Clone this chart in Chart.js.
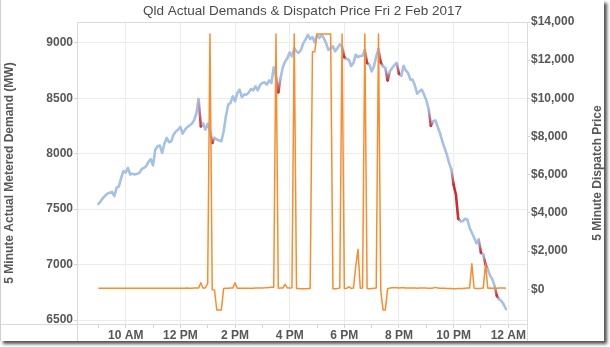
<!DOCTYPE html>
<html>
<head>
<meta charset="utf-8">
<script src="https://cdn.jsdelivr.net/npm/chart.js@4.4.1/dist/chart.umd.min.js"></script>
<style>
  body { margin: 0; background: #fff; }
  #frame {
    position: absolute; left: 0; top: 0;
    width: 603px; height: 341px;
    border-left: 1px solid #d0d0d0;
    box-shadow: 3px 3px 3px #555;
    background: #fff;
  }
  canvas { display: block; }
</style>
</head>
<body>
<div id="frame"><canvas id="chart" width="603" height="341"></canvas></div>
<script>
// 5 minute intervals, first one at 9:00 AM
const START_HOUR = 9;
const STEP_MIN = 5;

// Qld 5 minute actual metered demand (MW)
const demand = [
  7548, 7570, 7600, 7620, 7640, 7648, 7655, 7617, 7692, 7705,
  7780, 7842, 7830, 7872, 7812, 7820, 7812, 7818, 7827, 7860,
  7872, 7887, 7925, 7950, 7895, 8037, 8067, 8073, 8007, 8091,
  8142, 8103, 8110, 8170, 8200, 8215, 8241, 8180, 8215, 8240,
  8253, 8270, 8300, 8360, 8493, 8247, 8271, 8217, 8271, 8210,
  8097, 8142, 8127, 8118, 8112, 8200, 8337, 8442, 8457, 8517,
  8472, 8547, 8577, 8510, 8532, 8532, 8550, 8583, 8571, 8607,
  8571, 8620, 8637, 8643, 8622, 8661, 8637, 8778, 8700, 8553,
  8682, 8780, 8830, 8860, 8913, 8877, 8952, 8920, 8910, 8937,
  8997, 9030, 9072, 9033, 9051, 9003, 9072, 9042, 9072, 9040,
  8997, 8935, 8950, 8967, 8922, 8952, 8985, 8967, 8870, 8853,
  8847, 8790, 8817, 8892, 8871, 8880, 8883, 8937, 8817, 8802,
  8742, 8787, 8877, 8943, 8823, 8787, 8772, 8661, 8742, 8772,
  8800, 8817, 8721, 8703, 8793, 8751, 8727, 8667, 8667, 8613,
  8541, 8562, 8577, 8532, 8481, 8403, 8253, 8292, 8300, 8240,
  8187, 8112, 8052, 7992, 7917, 7857, 7720, 7630, 7413, 7392,
  7392, 7413, 7407, 7332, 7287, 7242, 7191, 7227, 7107, 7092,
  7000, 6957, 6900, 6867, 6807, 6717, 6687, 6672, 6640, 6597
];

// Qld 5 minute dispatch price ($/MWh)
const price = [
  52, 50, 49, 51, 50, 48, 50, 52, 51, 50,
  49, 50, 52, 53, 51, 50, 52, 54, 53, 52,
  51, 50, 52, 53, 55, 54, 52, 53, 55, 56,
  54, 55, 57, 56, 55, 58, 57, 56, 58, 60,
  59, 58, 60, 62, 60, 345, 55, 80, 300, 13370,
  -30, -40, -1084, -1084, -1084, 40, 55, 55, 60, 60,
  345, 55, 55, 56, 55, 58, 57, 56, 58, 60,
  62, 65, 70, 75, 85, 95, 110, 110, 13370, 55,
  60, 65, 260, 70, 65, 80, 13370, 40, 35, 30,
  30, 32, 35, 45, 12440, 12440, 13370, 13370, 13370, 13370,
  13370, 13370, 13370, 25, 30, 40, 60, 13370, 45, 50,
  130, 50, 60, 1180, 2090, 50, 60, 13370, 40, 30,
  40, 50, 60, 13370, -60, -1084, -1084, 30, 60, 80,
  75, 85, 70, 80, 75, 70, 65, 60, 62, 60,
  58, 60, 62, 65, 60, 58, 55, 60, 100, 60,
  55, 50, 48, 45, 40, 35, 30, 32, 35, 40,
  45, 55, 60, 60, 1330, 50, 40, 45, 50, 60,
  1330, 55, 60, 58, 55, 57, 60, 62, 60, 58
];

const tickHours = [10, 12, 14, 16, 18, 20, 22, 24];
const tickLabels = ['10 AM', '12 PM', '2 PM', '4 PM', '6 PM', '8 PM', '10 PM', '12 AM'];
const demandTicks = [6500, 7000, 7500, 8000, 8500, 9000];
const priceTicks = [0, 2000, 4000, 6000, 8000, 10000, 12000, 14000];

const BLUE = '#a6c1e6';
const RED = '#cf2a2f';
const ORANGE = '#f98d2d';
const DROP_LIMIT = 85; // MW fall in one interval shown in red
const TEXT = '#575757';
const FONT = "'Liberation Sans', Arial, sans-serif";
const PRICE_TITLE = '5 Minute Dispatch Price';

const hourOf = (i) => START_HOUR + i * STEP_MIN / 60;
const isDrop = (i) => i > 0 && demand[i - 1] - demand[i] > DROP_LIMIT;

const canvas = document.getElementById('chart');
const g2d = canvas.getContext('2d');

const segColour = (ctx) => {
    const c0 = isDrop(ctx.p0DataIndex) ? RED : BLUE;
    const c1 = isDrop(ctx.p1DataIndex) ? RED : BLUE;
    if (c0 === c1) return c0;
    const grad = g2d.createLinearGradient(ctx.p0.x, ctx.p0.y, ctx.p1.x, ctx.p1.y);
    grad.addColorStop(0, c0);
    grad.addColorStop(1, c1);
    return grad;
};

// box round the plot area, like the pane borders, plus the right axis title
// (chart.js turns a right-hand title the other way round)
const frameLines = {
    id: 'frameLines',
    beforeDatasetsDraw(chart) {
        const { ctx, chartArea: a } = chart;
        ctx.save();
        ctx.strokeStyle = '#dadada';
        ctx.lineWidth = 1;
        ctx.beginPath();
        ctx.moveTo(a.left, Math.round(a.top) + 0.5);
        ctx.lineTo(a.right, Math.round(a.top) + 0.5);
        ctx.moveTo(0, Math.round(a.bottom) + 0.5);
        ctx.lineTo(a.left, Math.round(a.bottom) + 0.5);
        ctx.moveTo(Math.round(a.left) + 0.5, a.bottom);
        ctx.lineTo(Math.round(a.left) + 0.5, chart.height);
        ctx.moveTo(Math.round(a.right) + 0.5, a.bottom);
        ctx.lineTo(Math.round(a.right) + 0.5, chart.height);
        ctx.stroke();

        ctx.translate(chart.width - 6, (a.top + a.bottom) / 2);
        ctx.rotate(-Math.PI / 2);
        ctx.fillStyle = TEXT;
        ctx.font = 'bold 12px ' + FONT;
        ctx.textAlign = 'center';
        ctx.textBaseline = 'middle';
        ctx.fillText(PRICE_TITLE, 0, 0);
        ctx.restore();
    }
};

new Chart(canvas, {
    type: 'line',
    data: {
        datasets: [{
            label: PRICE_TITLE,
            data: price.map((v, i) => ({ x: hourOf(i), y: v })),
            yAxisID: 'yPrice',
            borderColor: ORANGE,
            borderWidth: 1.5,
            borderJoinStyle: 'round',
            pointRadius: 0,
            order: 0
        }, {
            label: '5 Minute Actual Metered Demand (MW)',
            data: demand.map((v, i) => ({ x: hourOf(i), y: v })),
            yAxisID: 'yDemand',
            borderColor: BLUE,
            borderWidth: 2.6,
            borderJoinStyle: 'round',
            borderCapStyle: 'round',
            pointRadius: 0,
            segment: { borderColor: segColour },
            order: 1
        }]
    },
    options: {
        responsive: false,
        animation: false,
        events: [],
        layout: { padding: 0 },
        plugins: {
            legend: { display: false },
            tooltip: { enabled: false },
            title: {
                display: true,
                text: 'Qld Actual Demands & Dispatch Price Fri 2 Feb 2017',
                color: '#4a4a4a',
                font: { family: FONT, size: 13.5, weight: 'normal', lineHeight: 1.2 },
                padding: { top: 3.5, bottom: 2.3 }
            }
        },
        scales: {
            x: {
                type: 'linear',
                min: 8.218,
                max: 24.684,
                afterFit: (s) => { s.height = 17; },
                afterBuildTicks: (s) => {
                    const t = [];
                    for (let h = START_HOUR; h <= 24; h++) t.push({ value: h });
                    s.ticks = t;
                },
                ticks: {
                    autoSkip: false,
                    maxRotation: 0,
                    padding: 0,
                    color: TEXT,
                    font: { family: FONT, size: 12, weight: 'bold' },
                    callback: (v) => {
                        const k = tickHours.indexOf(v);
                        return k < 0 ? '' : tickLabels[k];
                    }
                },
                grid: {
                    color: (c) => (c.tick && tickHours.includes(c.tick.value)) ? '#ececec' : 'rgba(0,0,0,0)',
                    tickColor: '#d4d4d4',
                    tickLength: 4
                },
                border: { display: true, color: '#dadada' }
            },
            yDemand: {
                position: 'left',
                min: 6464,
                max: 9187,
                afterFit: (s) => { s.width = 76; },
                afterBuildTicks: (s) => { s.ticks = demandTicks.map(v => ({ value: v })); },
                ticks: {
                    padding: 1,
                    color: TEXT,
                    font: { family: FONT, size: 12, weight: 'bold' },
                    callback: (v) => String(v)
                },
                grid: { color: '#ececec', tickColor: '#d4d4d4', tickLength: 3 },
                border: { display: true, color: '#dadada' },
                title: {
                    display: true,
                    text: '5 Minute Actual Metered Demand (MW)',
                    color: TEXT,
                    font: { family: FONT, size: 12, weight: 'bold', lineHeight: 1 },
                    padding: { top: 3, bottom: 0 }
                }
            },
            yPrice: {
                position: 'right',
                min: -1820,
                max: 14000,
                afterFit: (s) => { s.width = 77; },
                afterBuildTicks: (s) => { s.ticks = priceTicks.map(v => ({ value: v })); },
                ticks: {
                    padding: 1,
                    color: TEXT,
                    font: { family: FONT, size: 12, weight: 'bold' },
                    callback: (v) => '$' + v.toLocaleString('en-US')
                },
                grid: { drawOnChartArea: false, tickColor: '#d4d4d4', tickLength: 3 },
                border: { display: true, color: '#dadada' }
            }
        }
    },
    plugins: [frameLines]
});
</script>
</body>
</html>
